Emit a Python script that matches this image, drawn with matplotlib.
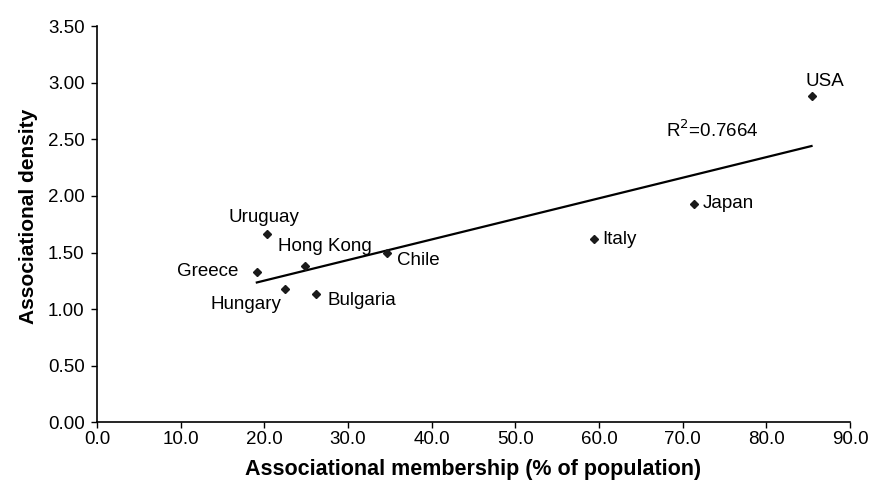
# Associational membership vs density scatter with trend line

import numpy as np
import matplotlib.pyplot as plt

plt.rcParams['font.family'] = ['Liberation Sans', 'DejaVu Sans']

# Data
countries = ["USA", "Japan", "Italy", "Uruguay", "Hong Kong", "Chile",
             "Greece", "Hungary", "Bulgaria"]
membership = [85.4, 71.4, 59.4, 20.3, 24.9, 34.7, 19.1, 22.5, 26.2]
density = [2.88, 1.93, 1.62, 1.66, 1.38, 1.50, 1.33, 1.18, 1.135]

# label offsets in points (dx, dy, ha)
offsets = {
    "USA": (-4, 11, 'left'),
    "Japan": (6, 0, 'left'),
    "Italy": (6, 0, 'left'),
    "Uruguay": (-2, 12, 'center'),
    "Hong Kong": (-20, 14, 'left'),
    "Chile": (7, -6, 'left'),
    "Greece": (-13, 0, 'right'),
    "Hungary": (-3, -11, 'right'),
    "Bulgaria": (8, -5, 'left'),
}

fig = plt.figure(figsize=(8.71, 4.83), dpi=100)
ax = fig.add_axes([0.1114, 0.1253, 0.8645, 0.8207])

ax.plot(membership, density, 'D', color='#1a1a1a', ms=4.5, zorder=3)

# linear trend
slope, intercept = np.polyfit(membership, density, 1)
xs = np.array([min(membership), max(membership)])
ax.plot(xs, slope * xs + intercept, color='black', lw=1.6)
ax.text(68.0, 2.58, "R$^2$=0.7664", fontsize=13.5, va='center', ha='left')

for c, x, y in zip(countries, membership, density):
    dx, dy, ha = offsets[c]
    ax.annotate(c, (x, y), xytext=(dx, dy), textcoords='offset points',
                ha=ha, va='center', fontsize=13.5)

ax.set_xlim(0, 90)
ax.set_ylim(0, 3.5)
ax.set_xticks(np.arange(0, 91, 10))
ax.set_yticks(np.arange(0, 3.51, 0.5))
ax.set_xticklabels([f"{v:.1f}" for v in np.arange(0, 91, 10)])
ax.set_yticklabels([f"{v:.2f}" for v in np.arange(0, 3.51, 0.5)])
ax.tick_params(labelsize=13.5, length=4, width=1, color='black')
ax.tick_params(axis='y', pad=5)
ax.tick_params(axis='x', pad=2)

ax.spines['top'].set_visible(False)
ax.spines['right'].set_visible(False)
ax.spines['left'].set_linewidth(1.2)
ax.spines['bottom'].set_linewidth(1.2)

ax.set_xlabel("Associational membership (% of population)", fontsize=15.5,
              fontweight='bold', labelpad=8)
ax.set_ylabel("Associational density", fontsize=15, fontweight='bold',
              labelpad=4)
ax.yaxis.set_label_coords(-0.078, 0.52)

fig.savefig("out.png", dpi=100)
